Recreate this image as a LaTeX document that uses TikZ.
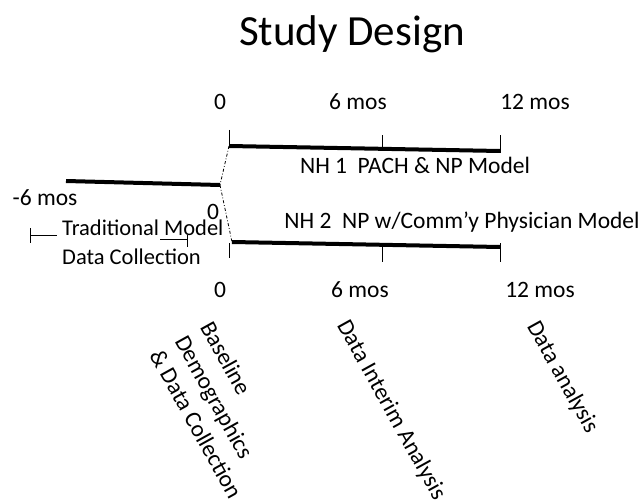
\documentclass[tikz,border=0pt]{standalone}
\usepackage{fontspec}
\setmainfont{Carlito}
\usetikzlibrary{positioning}
\tikzset{
  bar/.style={line width=4pt},
  tickmark/.style={line width=0.8pt},
  link/.style={line width=0.8pt, dash dot},
  lbl/.style={inner sep=0pt, font=\fontsize{23.5}{27}\selectfont},
  rotlbl/.style={inner sep=0pt, font=\fontsize{23.5}{29}\selectfont, rotate=-61, align=left, anchor=north west},
}

\begin{document}
\begin{tikzpicture}[x=1pt,y=-1pt]
	 \useasboundingbox (0,0) rectangle (642,500);
	 %Title
	 \node[inner sep=0pt, font=\fontsize{43}{48}\selectfont] (title) at (352,34) {Study Design};

	 %NH 1 time line
	 \node[lbl] (top0) at (220,102) {0};
	 \node[lbl] (top6) at (358,102) {6 mos};
	 \node[lbl] (top12) at (535,102) {12 mos};
	 \coordinate (a0) at (229,146);
	 \coordinate (a12) at (500,151);
	 \draw[bar] (a0) to (a12);
	 \draw[tickmark] (229,130) to (a0);
	 \draw[tickmark] (382,135) to (382,149);
	 \draw[tickmark] (500,135) to (500,153);
	 \node[lbl] (nh1) at (415,165) {NH 1\ \ PACH \& NP Model};

	 %Traditional model
	 \coordinate (p6) at (66,181);
	 \coordinate (p0) at (220,185);
	 \draw[bar] (p6) to (p0);
	 \node[lbl] (m6) at (45,198) {-6 mos};
	 \node[lbl] (mid0) at (213,212) {0};
	 \node[lbl, anchor=west, font=\fontsize{22.5}{27}\selectfont] (trad) at (62,228) {Traditional Model};
	 \node[lbl, anchor=west, font=\fontsize{22.5}{27}\selectfont] (coll) at (62,257) {Data Collection};
	 \draw[tickmark] (30,228) to (30,243);
	 \draw[tickmark] (30,235) to (57,235);
	 \draw[tickmark] (160,239) to (187,239);
	 \draw[tickmark] (187,235) to (187,247);

	 %NH 2 time line
	 \node[lbl] (nh2) at (462,222) {NH 2\ \ NP w/Comm’y Physician Model};
	 \coordinate (b0) at (232,242);
	 \coordinate (b12) at (500,247);
	 \draw[bar] (b0) to (b12);
	 \draw[tickmark] (229,243) to (229,258);
	 \draw[tickmark] (382,247) to (382,262);
	 \draw[tickmark] (500,243) to (500,262);
	 \node[lbl] (bot0) at (220,290) {0};
	 \node[lbl] (bot6) at (360,290) {6 mos};
	 \node[lbl] (bot12) at (540,290) {12 mos};

	 %links
	 \draw[link] (a0) to (p0);
	 \draw[link] (p0) to (b0);

	 %Events
	 \node[rotlbl] (ev0) at (214,319) {Baseline\\Demographics\\\& Data Collection};
	 \node[rotlbl] (ev6) at (351,317) {Data Interim Analysis};
	 \node[rotlbl] (ev12) at (541,318) {Data analysis};
\end{tikzpicture}
\end{document}
